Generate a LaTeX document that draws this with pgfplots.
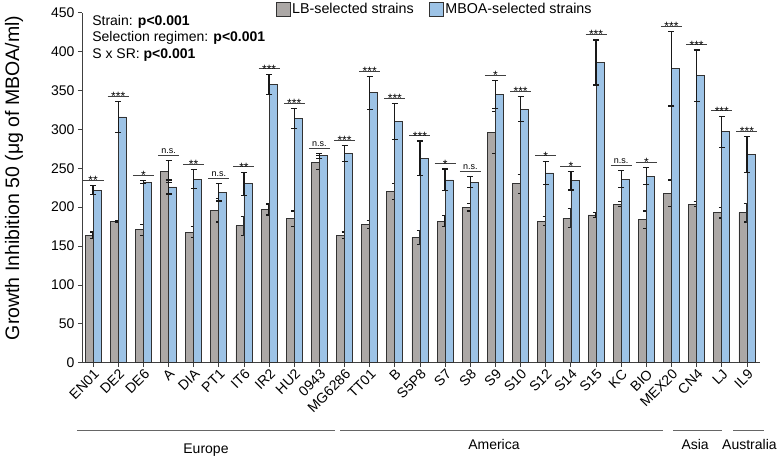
\documentclass[border=0pt]{standalone}
\usepackage{pgfplots}
\pgfplotsset{compat=1.18}
\usepackage{pgfplotstable}
\usepackage{fontspec}
\setmainfont{Liberation Sans}
\definecolor{lbgray}{RGB}{172,168,166}
\definecolor{mbblue}{RGB}{157,195,230}
\definecolor{edge}{RGB}{50,50,50}

\pgfplotstableread{
x lb lbe mb mbe
0 164 4 222 6
1 182 1 316 20
2 171 7 232 2
3 246 14 226 9
4 168 7 236 12
5 196 15 219 11
6 176 12 230 15
7 197 7 358 13
8 185 10 314 13
9 257 9 266 3
10 164 4 269 10
11 178 5 347 21
12 220 10 310 23
13 161 9 263 22
14 182 7 235 14
15 200 5 232 7
16 296 27 345 18
17 230 12 326 16
18 182 6 244 15
19 186 12 234 12
20 190 3 386 29
21 204 3 236 11
22 184 11 240 11
23 218 17 378 48
24 204 3 369 33
25 193 7 297 20
26 193 12 268 23
}\data

\newcommand{\sig}[3]{%
  \draw[black!75, line width=0.8pt] ([xshift=-10.5pt]axis cs:#1,#2) -- ([xshift=10.5pt]axis cs:#1,#2);
  \node[font=\fontsize{12}{12}\selectfont, anchor=base, inner sep=0pt, yshift=-4.5pt] at (axis cs:#1,#2) {#3};}
\newcommand{\ns}[2]{%
  \draw[black!75, line width=0.8pt] ([xshift=-10.5pt]axis cs:#1,#2) -- ([xshift=10.5pt]axis cs:#1,#2);
  \node[font=\fontsize{9}{9}\selectfont, anchor=base, inner sep=0pt, yshift=2pt] at (axis cs:#1,#2) {n.s.};}

\begin{document}
\begin{tikzpicture}
\useasboundingbox (-82pt,-96.3pt) rectangle (696pt,362.7pt);
\begin{axis}[
  at={(0pt,0pt)}, anchor=south west,
  scale only axis, width=678pt, height=350pt,
  xmin=-0.44, xmax=26.52, ymin=0, ymax=450,
  ytick={0,50,...,450},
  xtick={0,...,26},
  xticklabels={EN01,DE2,DE6,A,DIA,PT1,IT6,IR2,HU2,0943,MG6286,TT01,B,S5P8,S7,S8,S9,S10,S12,S14,S15,KC,BIO,MEX20,CN4,LJ,IL9},
  axis lines*=left,
  axis line style={black!75, line width=0.8pt},
  tick align=outside, major tick length=4pt,
  tick style={black!75, line width=0.8pt},
  /pgf/number format/assume math mode=true,
  tick label style={font=\fontsize{14}{16}\selectfont},
  xticklabel style={rotate=45, anchor=north east, inner sep=1pt},
  ylabel={Growth Inhibition 50 (μg of MBOA/ml)},
  ylabel style={font=\fontsize{19.5}{22}\selectfont, at={(axis description cs:-0.1,0.528)}, anchor=center},
  clip=false,
  legend style={draw=none, fill=none, inner sep=0pt, at={(0.52,1.034)}, anchor=north,
    font=\fontsize{14.3}{16}\selectfont, legend columns=2,
    /tikz/every even column/.append style={column sep=13pt}},
]
\addlegendimage{legend image code/.code={\draw[fill=lbgray, draw=edge, line width=0.6pt] (-3pt,-7pt) rectangle (11pt,7pt);}}
\addlegendentry{LB-selected strains}
\addlegendimage{legend image code/.code={\draw[fill=mbblue, draw=edge, line width=0.6pt] (-3pt,-7pt) rectangle (11pt,7pt);}}
\addlegendentry{MBOA-selected strains}

\addplot[ybar, bar width=8pt, bar shift=-4pt, fill=lbgray, draw=edge, line width=0.7pt, forget plot,
  error bars/.cd, y dir=both, y explicit,
  error bar style={black!90, line width=1.3pt},
  error mark options={rotate=90, mark size=3pt, black!90, line width=1.3pt}]
  table[x=x, y=lb, y error=lbe] {\data};
\addplot[ybar, bar width=8pt, bar shift=4pt, fill=mbblue, draw=edge, line width=0.7pt, forget plot,
  error bars/.cd, y dir=both, y explicit,
  error bar style={black!90, line width=1.3pt},
  error mark options={rotate=90, mark size=3pt, black!90, line width=1.3pt}]
  table[x=x, y=mb, y error=mbe] {\data};

\sig{0}{235}{**}
\sig{1}{343}{***}
\sig{2}{241}{*}
\ns{3}{267}
\sig{4}{255}{**}
\ns{5}{237}
\sig{6}{252}{**}
\sig{7}{378}{***}
\sig{8}{334}{***}
\ns{9}{276}
\sig{10}{286}{***}
\sig{11}{375}{***}
\sig{12}{340}{***}
\sig{13}{292}{***}
\sig{14}{256}{*}
\ns{15}{246}
\sig{16}{370}{*}
\sig{17}{349}{***}
\sig{18}{266}{*}
\sig{19}{253}{*}
\sig{20}{422}{***}
\ns{21}{254}
\sig{22}{258}{*}
\sig{23}{433}{***}
\sig{24}{409}{***}
\sig{25}{324}{***}
\sig{26}{298}{***}

\node[anchor=west, font=\fontsize{14}{16}\selectfont] at (axis cs:-0.17,438) {Strain: \textbf{p<0.001}};
\node[anchor=west, font=\fontsize{14}{16}\selectfont] at (axis cs:-0.17,417) {Selection regimen: \textbf{p<0.001}};
\node[anchor=west, font=\fontsize{14}{16}\selectfont] at (axis cs:-0.17,396) {S x SR: \textbf{p<0.001}};

\draw[black!60, line width=0.8pt] (axis cs:-0.64,-86.5) -- (axis cs:9.62,-86.5);
\draw[black!60, line width=0.8pt] (axis cs:9.82,-86.5) -- (axis cs:22.66,-86.5);
\draw[black!60, line width=0.8pt] (axis cs:23.06,-86.5) -- (axis cs:25.0,-86.5);
\draw[black!60, line width=0.8pt] (axis cs:25.45,-86.5) -- (axis cs:26.69,-86.5);
\node[font=\fontsize{14}{16}\selectfont] at (axis cs:4.49,-113) {Europe};
\node[font=\fontsize{14}{16}\selectfont] at (axis cs:15.94,-105) {America};
\node[font=\fontsize{14}{16}\selectfont] at (axis cs:23.94,-105) {Asia};
\node[font=\fontsize{14}{16}\selectfont] at (axis cs:26.1,-105) {Australia};
\end{axis}
\end{tikzpicture}
\end{document}
